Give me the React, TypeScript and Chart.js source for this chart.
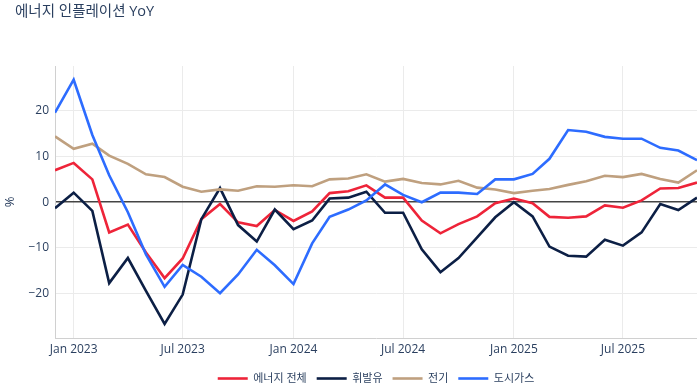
import React, { useEffect, useRef } from "react";
import { Chart, registerables } from "chart.js";

Chart.register(...registerables);

const MONTHS = [
  "2022-12",
  "2023-01", "2023-02", "2023-03", "2023-04", "2023-05", "2023-06",
  "2023-07", "2023-08", "2023-09", "2023-10", "2023-11", "2023-12",
  "2024-01", "2024-02", "2024-03", "2024-04", "2024-05", "2024-06",
  "2024-07", "2024-08", "2024-09", "2024-10", "2024-11", "2024-12",
  "2025-01", "2025-02", "2025-03", "2025-04", "2025-05", "2025-06",
  "2025-07", "2025-08", "2025-09", "2025-10", "2025-11",
];

const ENERGY_TOTAL = [
  7.0, 8.6, 5.0, -6.6, -4.9, -11.0, -16.6, -12.3, -3.7, -0.4, -4.4, -5.2,
  -1.7, -4.1, -2.0, 2.0, 2.4, 3.7, 1.0, 1.0, -4.0, -6.8, -4.8, -3.1,
  -0.2, 0.8, -0.2, -3.2, -3.4, -3.1, -0.7, -1.2, 0.4, 3.0, 3.1, 4.3,
];

const GASOLINE = [
  -1.3, 2.1, -1.9, -17.7, -12.2, -19.4, -26.6, -20.2, -3.7, 3.1, -5.0, -8.6,
  -1.6, -5.9, -4.0, 0.8, 1.0, 2.3, -2.3, -2.3, -10.3, -15.3, -12.2, -7.7,
  -3.3, 0.0, -3.1, -9.7, -11.7, -11.9, -8.2, -9.5, -6.6, -0.4, -1.7, 1.0,
];

const ELECTRICITY = [
  14.4, 11.7, 12.8, 10.2, 8.4, 6.1, 5.5, 3.4, 2.3, 2.8, 2.5, 3.5,
  3.4, 3.7, 3.5, 5.0, 5.2, 6.1, 4.5, 5.1, 4.2, 3.9, 4.7, 3.2,
  2.8, 2.0, 2.5, 2.9, 3.8, 4.6, 5.8, 5.5, 6.2, 5.1, 4.3, 7.0,
];

const CITY_GAS = [
  19.6, 26.8, 14.7, 5.9, -2.2, -11.4, -18.5, -13.7, -16.3, -19.9, -15.8, -10.4,
  -13.8, -17.9, -9.0, -3.2, -1.6, 0.4, 3.9, 1.6, 0.0, 2.1, 2.1, 1.8,
  5.0, 5.0, 6.2, 9.5, 15.8, 15.4, 14.3, 13.9, 13.9, 11.9, 11.3, 9.2,
];

const TICK_MONTHS = ["2023-01", "2023-07", "2024-01", "2024-07", "2025-01", "2025-07"];
const TICK_LABELS = ["Jan 2023", "Jul 2023", "Jan 2024", "Jul 2024", "Jan 2025", "Jul 2025"];
const Y_TICKS = [-20, -10, 0, 10, 20];

const SERIES_NAMES = ["에너지 전체", "휘발유", "전기", "도시가스"];
const TITLE = "에너지 인플레이션 YoY";

const FONT = "'Open Sans', 'Noto Sans CJK KR', sans-serif";
const TEXT_COLOR = "#2a3f5f";

const toDay = (m: string) => {
  const [y, mo] = m.split("-").map(Number);
  return Date.UTC(y, mo - 1, 1) / 86400000;
};

export default function App() {
  const ref = useRef<HTMLCanvasElement>(null);

  useEffect(() => {
    document.body.style.margin = "0";
    const canvas = ref.current!;
    const xs = MONTHS.map(toDay);
    const mk = (vals: number[]) => vals.map((v, i) => ({ x: xs[i], y: v }));
    const colors = ["#ee2439", "#0c1f45", "#bfa07f", "#2d6cff"];
    const series = [ENERGY_TOTAL, GASOLINE, ELECTRICITY, CITY_GAS];

    const titlePlugin = {
      id: "titlePlugin",
      afterDraw(chart: any) {
        const ctx = chart.ctx;
        ctx.save();
        ctx.font = `14.5px ${FONT}`;
        ctx.fillStyle = TEXT_COLOR;
        ctx.textBaseline = "middle";
        ctx.textAlign = "left";
        ctx.fillText(TITLE, 15, 12);
        ctx.restore();
      },
    };

    const chart = new Chart(canvas, {
      type: "line",
      data: {
        datasets: series.map((s, i) => ({
          label: SERIES_NAMES[i],
          data: mk(s),
          borderColor: colors[i],
          backgroundColor: colors[i],
          borderWidth: 2.6,
          pointRadius: 0,
          tension: 0,
          order: 4 - i,
        })),
      },
      options: {
        responsive: false,
        animation: false,
        devicePixelRatio: 1,
        layout: { padding: { top: 66, right: 0, left: 0, bottom: -9 } },
        plugins: {
          title: { display: false },
          tooltip: { enabled: false },
          legend: {
            position: "bottom",
            fullSize: false,
            labels: {
              usePointStyle: true,
              pointStyle: "line",
              pointStyleWidth: 30,
              boxHeight: 3,
              padding: 10,
              color: TEXT_COLOR,
              font: { family: FONT, size: 11 },
              sort: (a: any, b: any) => a.datasetIndex - b.datasetIndex,
            },
          },
        },
        scales: {
          x: {
            type: "linear",
            min: xs[0],
            max: xs[xs.length - 1],
            afterBuildTicks: (scale: any) => {
              scale.ticks = TICK_MONTHS.map((m) => ({ value: toDay(m) }));
            },
            afterFit: (scale: any) => {
              scale.height = 25;
            },
            ticks: {
              autoSkip: false,
              maxRotation: 0,
              padding: 4,
              color: TEXT_COLOR,
              font: { family: FONT, size: 12 },
              callback: (v: any) => {
                const idx = TICK_MONTHS.findIndex((m) => toDay(m) === v);
                return idx >= 0 ? TICK_LABELS[idx] : "";
              },
            },
            grid: { color: "#ebebeb", lineWidth: 1, drawTicks: false },
            border: { color: "#d0d0d0", width: 1 },
          },
          y: {
            type: "linear",
            min: -29.7,
            max: 29.8,
            afterBuildTicks: (scale: any) => {
              scale.ticks = Y_TICKS.map((v) => ({ value: v }));
            },
            afterFit: (scale: any) => {
              scale.width = 55;
            },
            ticks: {
              padding: 6,
              color: TEXT_COLOR,
              font: { family: FONT, size: 12 },
              callback: (v: any) => (v < 0 ? "\u2212" + Math.abs(v) : String(v)),
            },
            grid: {
              color: (c: any) => (c.tick && c.tick.value === 0 ? "#444444" : "#ebebeb"),
              lineWidth: (c: any) => (c.tick && c.tick.value === 0 ? 1.5 : 1),
              drawTicks: false,
            },
            border: { color: "#d0d0d0", width: 1 },
            title: {
              display: true,
              text: "%",
              color: TEXT_COLOR,
              font: { family: FONT, size: 13 },
              padding: { top: 2, bottom: 0 },
            },
          },
        },
      },
      plugins: [titlePlugin],
    } as any);

    return () => chart.destroy();
  }, []);

  return (
    <div style={{ position: "absolute", left: 0, top: 0, width: 697, height: 385 }}>
      <canvas ref={ref} width={697} height={385} style={{ width: 697, height: 385 }} />
    </div>
  );
}
